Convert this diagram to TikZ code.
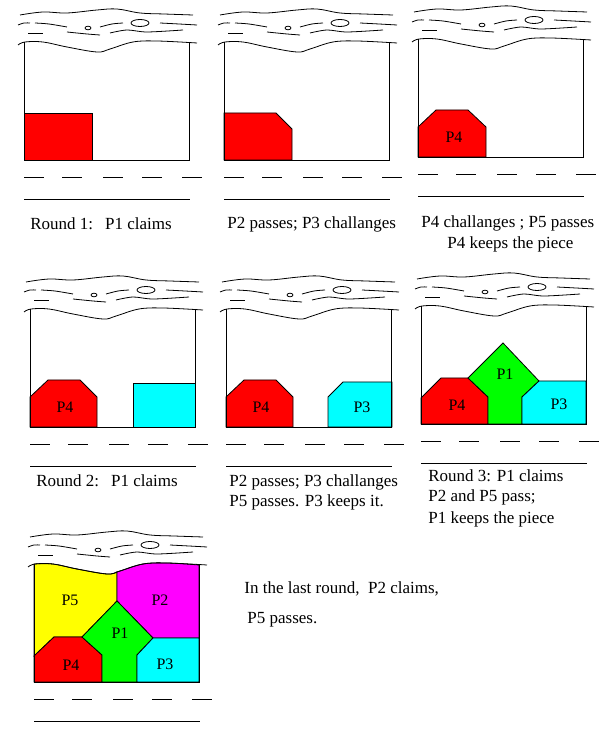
\documentclass[tikz,border=0pt]{standalone}
\usepackage{fontspec}
\setmainfont{Liberation Serif}
\definecolor{pred}{RGB}{255,0,0}
\definecolor{pcyan}{RGB}{0,255,255}
\definecolor{pgreen}{RGB}{0,255,0}
\definecolor{pyellow}{RGB}{255,255,0}
\definecolor{pmag}{RGB}{255,0,255}
\begin{document}
\begin{tikzpicture}[x=1pt,y=1pt,line width=0.8pt,
  captxt/.style={anchor=west,font=\fontsize{17}{19}\selectfont,inner sep=0pt},
  lab/.style={font=\fontsize{16}{18}\selectfont,inner sep=0pt},
  piece/.style={draw=black,line width=0.8pt}]
\useasboundingbox (0,0) rectangle (612,750);
\newcommand\frm{%
  \draw plot[smooth,tension=0.6] coordinates{(-4,145)(19,148)(43,147)(73,150)(93,151)(116,147)(140,146)(169,145)};
  \draw plot[smooth] coordinates{(-6,135)(0,137)(6,137)};
  \draw plot[smooth] coordinates{(11,137)(25,136)(43,133)};
  \draw (64,132) ellipse (3 and 1.8);
  \draw plot[smooth] coordinates{(76,133)(88,136)(99,137)};
  \draw (116,137) ellipse (9 and 3.5);
  \draw plot[smooth] coordinates{(136,137)(155,136)(173,135)};
  \draw (4,127) -- (19,127);
  \draw plot[smooth] coordinates{(43,128)(63,126)(76,125)};
  \draw plot[smooth] coordinates{(86,127)(103,130)(123,128)(159,130)};
  \draw plot[smooth,tension=0.6] coordinates{(-6,115)(1,118)(19,118)(43,113)(73,108)(86,111)(109,118)(133,119)(173,117)};
  \draw (0,118) -- (0,0) -- (165,0) -- (165,118);
  \foreach \a in {0,38,79,118,158} \draw (\a,-17) -- ++(20,0);
  \draw (0,-39) -- (166,-39);
}
% Panel 1
\begin{scope}[shift={(24,590)}]
  \fill[pred,piece] (0,0) rectangle (68,47);
  \frm
  \node[captxt] (c1) at (6,-64) {Round 1:\hspace{12pt}P1 claims};
\end{scope}
% Panel 2
\begin{scope}[shift={(224,590)}]
  \fill[pred,piece] (0,0) -- (0,47) -- (52,47) -- (68,31) -- (68,0) -- cycle;
  \frm
  \node[captxt] (c2) at (3,-64) {P2 passes; P3 challanges};
\end{scope}
% Panel 3
\begin{scope}[shift={(418,593)}]
  \fill[pred,piece] (0,0) -- (0,30) -- (18,47) -- (50,47) -- (68,30) -- (68,0) -- cycle;
  \node[lab] (p4a) at (36,20) {P4};
  \frm
  \node[captxt] (c3) at (3,-66) {P4 challanges ; P5 passes};
  \node[captxt] (c3b) at (29,-87) {P4 keeps the piece};
\end{scope}
% Panel 4
\begin{scope}[shift={(30,323)}]
  \fill[pred,piece] (0,0) -- (0,30) -- (18,47) -- (50,47) -- (67,30) -- (67,0) -- cycle;
  \fill[pcyan,piece] (103,0) rectangle (165,44);
  \node[lab] (p4b) at (35,20) {P4};
  \frm
  \node[captxt] (c4) at (6,-54) {Round 2:\hspace{12pt}P1 claims};
\end{scope}
% Panel 5
\begin{scope}[shift={(226,323)}]
  \fill[pred,piece] (0,0) -- (0,30) -- (18,47) -- (50,47) -- (67,30) -- (67,0) -- cycle;
  \fill[pcyan,piece] (102,0) -- (102,30) -- (117,45) -- (166,45) -- (166,0) -- cycle;
  \node[lab] (p4c) at (35,20) {P4};
  \node[lab] (p3c) at (136,20) {P3};
  \frm
  \node[captxt] (c5) at (3,-55) {P2 passes; P3 challanges};
  \node[captxt] (c5b) at (3,-75) {P5 passes. P3 keeps it.};
\end{scope}
% Panel 6
\begin{scope}[shift={(421,326)}]
  \fill[pred,piece] (0,0) -- (0,26) -- (20,46) -- (47,46) -- (67,27) -- (67,0) -- cycle;
  \fill[pgreen,piece] (67,0) -- (67,27) -- (47,46) -- (82,81) -- (118,43) -- (101,27) -- (101,0) -- cycle;
  \fill[pcyan,piece] (101,0) -- (101,27) -- (118,43) -- (165,43) -- (165,0) -- cycle;
  \node[lab] (p4d) at (36,19) {P4};
  \node[lab] (p1d) at (84,50) {P1};
  \node[lab] (p3d) at (138,20) {P3};
  \frm
  \node[captxt] (c6) at (7,-52) {Round 3: P1 claims};
  \node[captxt] (c6b) at (7,-73) {P2 and P5 pass;};
  \node[captxt] (c6c) at (7,-95) {P1 keeps the piece};
\end{scope}
% Panel 7
\begin{scope}[shift={(34,68)}]
  \fill[pyellow,piece] (0,26) -- (20,45) -- (48,45) -- (83,81) -- (83,110) -- plot[smooth,tension=0.6] coordinates{(83,110)(73,108)(43,113)(19,118)(0,118)} -- cycle;
  \fill[pmag,piece] (83,81) -- (83,110) -- plot[smooth,tension=0.6] coordinates{(83,110)(86,111)(109,118)(133,119)(165,117)} -- (165,44) -- (119,44) -- cycle;
  \fill[pred,piece] (0,0) -- (0,26) -- (20,45) -- (48,45) -- (68,27) -- (68,0) -- cycle;
  \fill[pgreen,piece] (68,0) -- (68,27) -- (48,45) -- (83,81) -- (119,44) -- (103,27) -- (103,0) -- cycle;
  \fill[pcyan,piece] (103,0) -- (103,27) -- (119,44) -- (165,44) -- (165,0) -- cycle;
  \node[lab] (p5e) at (36,82) {P5};
  \node[lab] (p2e) at (126,82) {P2};
  \node[lab] (p1e) at (86,49) {P1};
  \node[lab] (p4e) at (37,17) {P4};
  \node[lab] (p3e) at (131,18) {P3};
  \frm
\end{scope}
\node[captxt] (t1) at (244,161) {In the last round,\ \ P2 claims,};
\node[captxt] (t2) at (247,130) {P5 passes.};
\end{tikzpicture}
\end{document}
